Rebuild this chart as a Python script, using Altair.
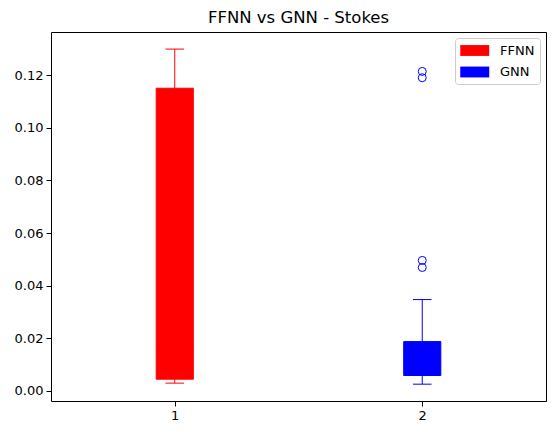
import altair as alt
import pandas as pd

# ---- data ----
groups = ["FFNN", "GNN"]
positions = [1, 2]
whisker_low = [0.0029, 0.0025]
q1 = [0.0044, 0.0058]
medians = [0.0152, 0.0106]
q3 = [0.1151, 0.0187]
whisker_high = [0.1300, 0.0347]
outlier_group = ["GNN", "GNN", "GNN", "GNN"]
outlier_pos = [2, 2, 2, 2]
outlier_vals = [0.0469, 0.0496, 0.1191, 0.1215]
colors = ["red", "blue"]

BOX_HALF = 0.075
CAP_HALF = 0.0375
FONT = "DejaVu Sans"

stats = pd.DataFrame({
    "group": groups, "pos": positions, "low": whisker_low, "q1": q1,
    "median": medians, "q3": q3, "high": whisker_high,
})
fliers = pd.DataFrame({"group": outlier_group, "pos": outlier_pos, "value": outlier_vals})

xs = alt.Scale(domain=[0.5, 2.5], nice=False, zero=False)
ys = alt.Scale(domain=[-0.0039, 0.1365], nice=False, zero=False)
cs = alt.Scale(domain=groups, range=colors)

xaxis = alt.Axis(values=positions, format="d", title=None, grid=False,
                 labelFont=FONT, labelFontSize=13, labelColor="black",
                 tickColor="black", domainColor="black", tickSize=5, labelPadding=3)
yaxis = alt.Axis(values=[0, 0.02, 0.04, 0.06, 0.08, 0.10, 0.12], format=".2f", title=None,
                 grid=False, labelFont=FONT, labelFontSize=13, labelColor="black",
                 tickColor="black", domainColor="black", tickSize=5, labelPadding=3)
xaxis_top = alt.Axis(orient="top", title=None, grid=False, labels=False, ticks=False,
                     domainColor="black")
yaxis_right = alt.Axis(orient="right", title=None, grid=False, labels=False, ticks=False,
                       domainColor="black")

base = alt.Chart(stats).transform_calculate(
    left=f"datum.pos - {BOX_HALF}", right=f"datum.pos + {BOX_HALF}",
    capl=f"datum.pos - {CAP_HALF}", capr=f"datum.pos + {CAP_HALF}",
)

legend = alt.Legend(
    title=None, orient="top-right", offset=6, padding=5,
    strokeColor="#cccccc", fillColor="white", cornerRadius=3,
    symbolType="M-1,-0.75H3V0.75H-1Z", symbolSize=210, symbolStrokeWidth=0,
    symbolOpacity=1, labelOffset=25, rowPadding=6.5,
    labelFont=FONT, labelFontSize=13, labelColor="black",
)

boxes = base.mark_rect(strokeWidth=1, opacity=1).encode(
    x=alt.X("left:Q", scale=xs, axis=xaxis), x2="right:Q",
    y=alt.Y("q1:Q", scale=ys, axis=yaxis), y2="q3:Q",
    color=alt.Color("group:N", scale=cs, legend=legend),
    stroke=alt.Stroke("group:N", scale=cs, legend=None),
)

frame = base.mark_rule(strokeWidth=1, opacity=0).encode(
    x=alt.X("pos:Q", scale=xs, axis=xaxis_top),
    y=alt.Y("low:Q", scale=ys, axis=yaxis_right), y2="q1:Q",
)

med = base.mark_rule(strokeWidth=1).encode(
    x=alt.X("left:Q", scale=xs, axis=None), x2="right:Q",
    y=alt.Y("median:Q", scale=ys, axis=None),
    color=alt.Color("group:N", scale=cs, legend=None),
)

whisk_lo = base.mark_rule(strokeWidth=1).encode(
    x=alt.X("pos:Q", scale=xs, axis=None), y=alt.Y("low:Q", scale=ys, axis=None), y2="q1:Q",
    color=alt.Color("group:N", scale=cs, legend=None),
)
whisk_hi = base.mark_rule(strokeWidth=1).encode(
    x=alt.X("pos:Q", scale=xs, axis=None), y=alt.Y("q3:Q", scale=ys, axis=None), y2="high:Q",
    color=alt.Color("group:N", scale=cs, legend=None),
)
cap_lo = base.mark_rule(strokeWidth=1).encode(
    x=alt.X("capl:Q", scale=xs, axis=None), x2="capr:Q", y=alt.Y("low:Q", scale=ys, axis=None),
    color=alt.Color("group:N", scale=cs, legend=None),
)
cap_hi = base.mark_rule(strokeWidth=1).encode(
    x=alt.X("capl:Q", scale=xs, axis=None), x2="capr:Q", y=alt.Y("high:Q", scale=ys, axis=None),
    color=alt.Color("group:N", scale=cs, legend=None),
)

points = alt.Chart(fliers).mark_point(shape="circle", filled=False, size=64, strokeWidth=1, opacity=1).encode(
    x=alt.X("pos:Q", scale=xs, axis=None), y=alt.Y("value:Q", scale=ys, axis=None),
    color=alt.Color("group:N", scale=cs, legend=None),
)

chart = alt.layer(boxes, frame, med, whisk_lo, whisk_hi, cap_lo, cap_hi, points).resolve_axis(
    x="independent", y="independent"
).properties(
    width=495, height=369,
    autosize=alt.AutoSizeParams(type="none"),
    padding={"left": 43, "top": 24, "right": 2, "bottom": 26},
    title=alt.TitleParams("FFNN vs GNN - Stokes", font=FONT, fontSize=16.5,
                          fontWeight="normal", color="black", offset=6, anchor="middle"),
).configure_view(stroke=None).configure(background="white")

chart.save("out.html", embed_options={"renderer": "svg", "actions": False})
